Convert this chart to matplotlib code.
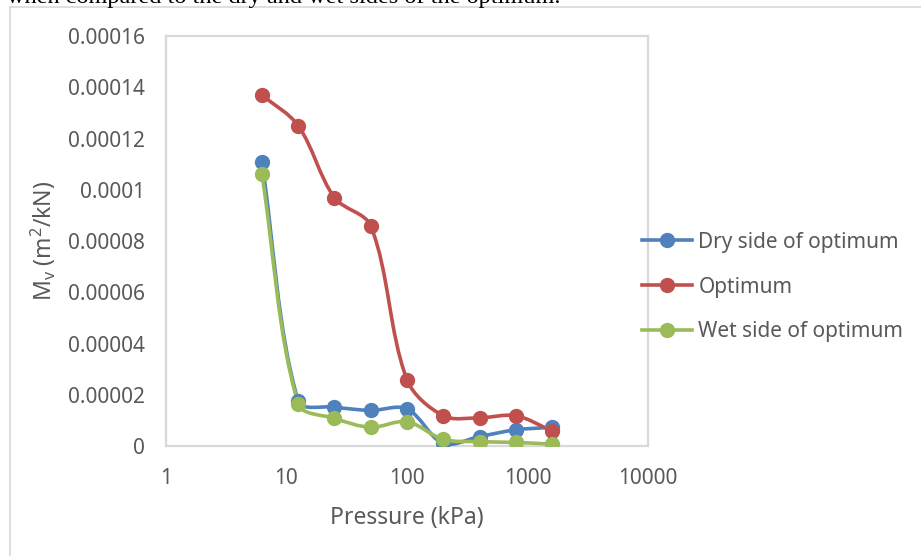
import numpy as np
import matplotlib
matplotlib.use("Agg")
import matplotlib.pyplot as plt
from matplotlib.path import Path
from matplotlib.patches import PathPatch
from matplotlib.lines import Line2D

# Data
pressure = [6.25, 12.5, 25, 50, 100, 200, 400, 800, 1600]
dry_side = [111e-6, 17.6e-6, 15.2e-6, 13.9e-6, 14.5e-6, 1.0e-6, 3.7e-6, 6.3e-6, 7.3e-6]
optimum = [137e-6, 125e-6, 96.9e-6, 85.9e-6, 25.9e-6, 11.8e-6, 11.0e-6, 11.8e-6, 5.9e-6]
wet_side = [106e-6, 16.5e-6, 10.8e-6, 7.3e-6, 9.5e-6, 2.6e-6, 1.7e-6, 1.4e-6, 0.7e-6]

series_names = ["Dry side of optimum", "Optimum", "Wet side of optimum"]
series_colors = ["#4f81bd", "#c0504d", "#9bbb59"]

x_ticks = [1, 10, 100, 1000, 10000]
x_tick_labels = ["1", "10", "100", "1000", "10000"]
y_ticks = [0, 0.00002, 0.00004, 0.00006, 0.00008, 0.0001, 0.00012, 0.00014, 0.00016]
y_tick_labels = ["0", "0.00002", "0.00004", "0.00006", "0.00008", "0.0001",
                 "0.00012", "0.00014", "0.00016"]

plt.rcParams["font.family"] = ["Noto Sans", "DejaVu Sans"]
plt.rcParams["mathtext.fontset"] = "custom"
plt.rcParams["mathtext.rm"] = "Noto Sans"

TXT = "#595959"
GRID = "#d9d9d9"

W, H = 921, 556
left, right, top, bottom = 166, 648, 36, 446
# pixel scale of the plot area, used so smoothing behaves like Excel's
SX = (right - left) / 4.0
SY = (bottom - top) / 0.00016


def smooth_path(xs, ys):
    """Excel-like smoothed line: chord-weighted bezier in (log x, y) pixel space."""
    pts = np.column_stack([np.log10(xs) * SX, np.asarray(ys) * SY])
    n = len(pts)
    verts = [pts[0]]
    codes = [Path.MOVETO]
    for i in range(n - 1):
        p0 = pts[i - 1] if i > 0 else pts[i]
        p1 = pts[i]
        p2 = pts[i + 1]
        p3 = pts[i + 2] if i + 2 < n else pts[i + 1]
        l01 = np.hypot(*(p1 - p0))
        l12 = np.hypot(*(p2 - p1))
        l23 = np.hypot(*(p3 - p2))
        d1 = p2 - p0
        d2 = p3 - p1
        c1 = p1 + d1 * l12 / (3.0 * (l01 + l12)) if i > 0 else p1 + (p2 - p1) / 3.0
        c2 = p2 - d2 * l12 / (3.0 * (l12 + l23)) if i + 2 < n else p2 - (p2 - p1) / 3.0
        verts += [c1, c2, p2]
        codes += [Path.CURVE4] * 3
    verts = np.array(verts)
    verts[:, 0] = 10 ** (verts[:, 0] / SX)
    verts[:, 1] = verts[:, 1] / SY
    return Path(verts, codes)


fig = plt.figure(figsize=(9.21, 5.56), dpi=100)
ax = fig.add_axes([left / W, 1 - bottom / H, (right - left) / W, (bottom - top) / H])

for name, vals, col in zip(series_names, [dry_side, optimum, wet_side], series_colors):
    path = smooth_path(pressure, vals)
    ax.add_patch(PathPatch(path, facecolor="none", edgecolor=col, lw=2.6,
                           capstyle="round", joinstyle="round", zorder=3))
    ax.plot(pressure, vals, linestyle="none", marker="o", markersize=10,
            color=col, zorder=4)

ax.set_xscale("log")
ax.set_xlim(1, 10000)
ax.set_ylim(0, 0.00016)
ax.set_xticks(x_ticks)
ax.set_xticklabels(x_tick_labels)
ax.set_yticks(y_ticks)
ax.set_yticklabels(y_tick_labels)
ax.minorticks_off()
ax.tick_params(axis="both", length=0, labelsize=15, labelcolor=TXT)
ax.tick_params(axis="y", pad=15)
ax.tick_params(axis="x", pad=16)

for s in ax.spines.values():
    s.set_color(GRID)
    s.set_linewidth(1.6)

ax.set_xlabel("Pressure (kPa)", fontsize=16.5, color=TXT, labelpad=12)
ax.set_ylabel(r"M$_\mathregular{v}$ (m$^\mathregular{2}$/kN)", fontsize=16.5,
              color=TXT, labelpad=7)

handles = [Line2D([], [], color=c, lw=2.6, marker="o", markersize=10)
           for c in series_colors]
leg = fig.legend(handles, series_names, loc="center left",
                 bbox_to_anchor=(642 / W, 1 - 287 / H), frameon=False,
                 fontsize=15, handlelength=2.4, handletextpad=0.3,
                 labelspacing=1.14, borderaxespad=0, borderpad=0)
for t in leg.get_texts():
    t.set_color(TXT)

# outer chart-area border (left and top edges visible)
fig.add_artist(Line2D([10 / W, 10 / W], [0, 1 - 7 / H], transform=fig.transFigure,
                      color=GRID, lw=1.2))
fig.add_artist(Line2D([10 / W, 1.0], [1 - 7 / H, 1 - 7 / H], transform=fig.transFigure,
                      color=GRID, lw=1.2))

# cropped line of document text above the chart
fig.text(560 / W, 1 - 3 / H, "when compared to the dry and wet sides of the optimum.",
         ha="right", va="baseline", fontsize=17.5, family="Liberation Serif", color="black")

fig.savefig("out.png", dpi=100)
